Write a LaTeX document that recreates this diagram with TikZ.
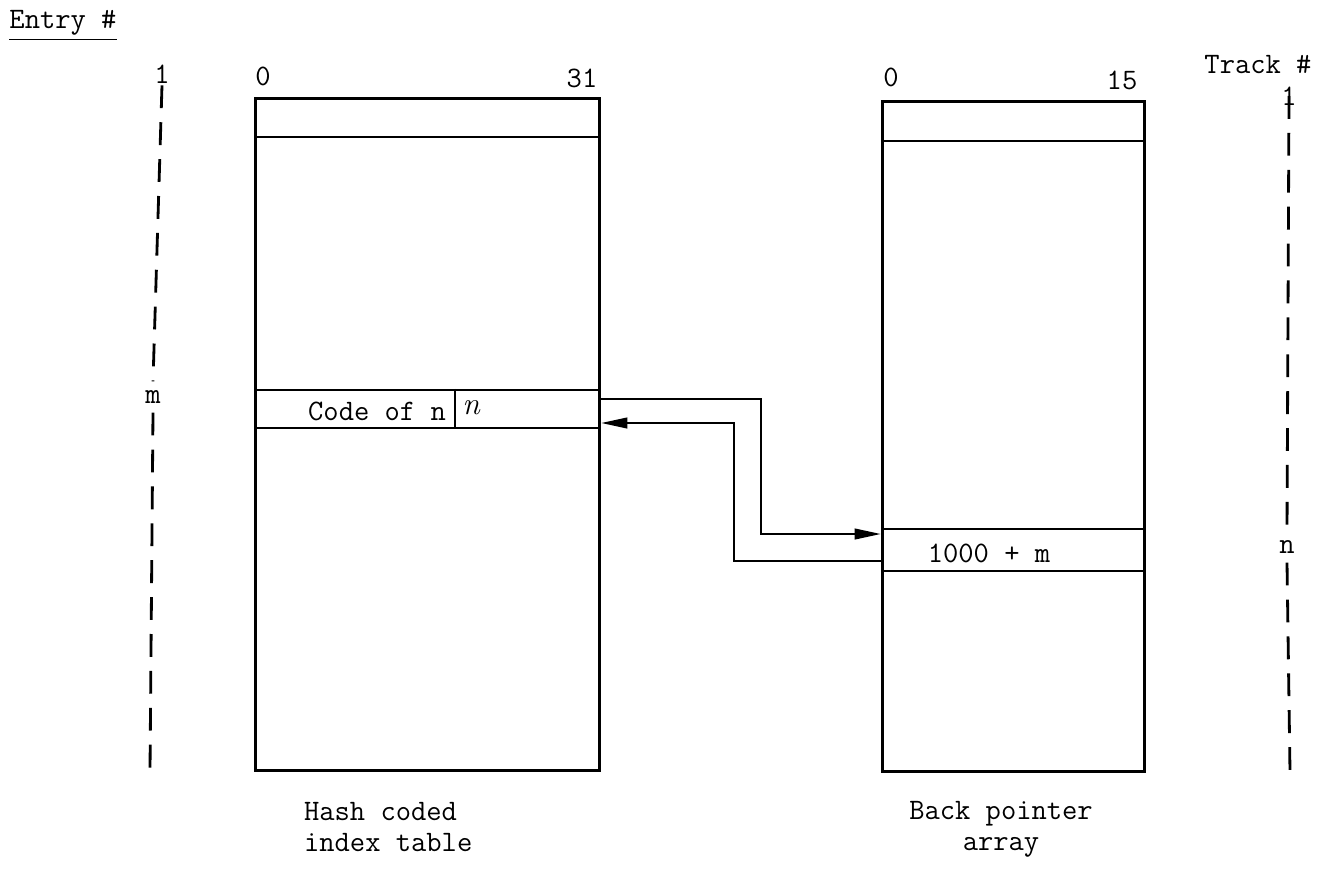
\documentclass[tikz,border=0pt]{standalone}
\usepackage{fontspec}
\usepackage{amsmath}
\usepackage{tikz}
\usetikzlibrary{arrows.meta, positioning, calc}

\newcommand{\typeface}{\ttfamily\fontsize{16.9}{17.5}\selectfont}

\begin{document}
\begin{tikzpicture}[x=0.02cm, y=-0.02cm,
  tablebox/.style={draw, line width=1.7pt, inner sep=0pt},
  rowbox/.style={draw, line width=1.2pt, inner sep=0pt},
  lbl/.style={font=\typeface, inner sep=1pt},
  gaplbl/.style={font=\typeface, inner sep=5pt},
  dashline/.style={line width=1.6pt, dash pattern=on 13pt off 8pt},
  ptr/.style={line width=1.4pt, -{Triangle[length=15pt, width=6pt]}}]
  \useasboundingbox (0,0) rectangle (1325,869);
  % column headings
  \node[lbl] (entry) at (63,26) {\underline{Entry \#}};
  \node[lbl] (track) at (1258,65) {Track \#};
  % Hash coded index table
  \node[tablebox, minimum width=6.9cm, minimum height=13.46cm] (hash) at (427.5,434.5) {};
  \node[rowbox, minimum width=6.9cm, minimum height=0.78cm, anchor=north] (hashtop) at (hash.north) {};
  \node[rowbox, minimum width=6.9cm, minimum height=0.76cm] (code) at (427.5,409) {};
  \node[lbl] (hash0) at (263,76) {0};
  \node[lbl] (hash31) at (582,78) {31};
  \node[lbl] (codetext) at (377,411) {Code of n};
  \coordinate (div) at (455,409);
  \draw[line width=0.6pt] (div |- code.north) -- (div |- code.south);
  \node[lbl, font=\rmfamily\itshape\fontsize{18}{18}\selectfont] (codeidx) at (471,408) {n};
  \node[lbl, align=left, anchor=west] (hashname) at (302,827) {Hash coded\\index table};
  % Back pointer array
  \node[tablebox, minimum width=5.26cm, minimum height=13.42cm] (back) at (1013.5,436.5) {};
  \node[rowbox, minimum width=5.26cm, minimum height=0.8cm, anchor=north] (backtop) at (back.north) {};
  \node[rowbox, minimum width=5.26cm, minimum height=0.84cm] (ptrrow) at (1013.5,550) {};
  \node[lbl] (back0) at (891,77) {0};
  \node[lbl] (back15) at (1122,80) {15};
  \node[lbl] (ptrtext) at (989,553) {1000 + m};
  \node[lbl, align=center] (backname) at (1001,829) {Back pointer\\array};
  % pointers between the two tables
  \draw[ptr] ([yshift=0.2cm]code.east) -| ([xshift=-2.4cm, yshift=0.32cm]ptrrow.west) -- ([yshift=0.32cm]ptrrow.west);
  \draw[ptr] ([yshift=-0.22cm]ptrrow.west) -| ([xshift=2.66cm, yshift=-0.28cm]code.east) -- ([yshift=-0.28cm]code.east);
  % entry numbers
  \node[lbl] (e1) at (162,74) {1};
  \node[gaplbl] (em) at (153,397) {m};
  \coordinate (eend) at (150,771);
  \draw[dashline] (e1.south) -- (em.north);
  \draw[dashline] (em.south) -- (eend);
  % track numbers
  \node[lbl] (t1) at (1289,96) {1};
  \node[gaplbl] (tn) at (1287,547) {n};
  \coordinate (tend) at (1290,772);
  \draw[dashline] (t1.center) -- (tn.north);
  \draw[dashline] (tn.south) -- (tend);
\end{tikzpicture}
\end{document}
